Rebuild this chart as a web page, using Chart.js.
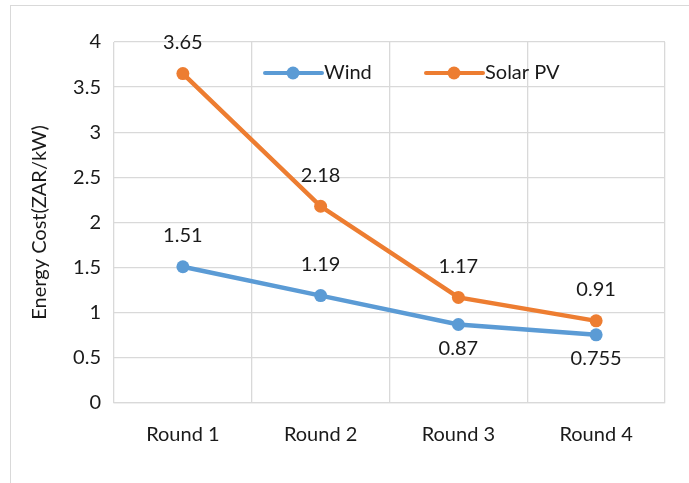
<!DOCTYPE html>
<html>
<head>
<meta charset="utf-8">
<script src="https://cdn.jsdelivr.net/npm/chart.js@4"></script>
<style>
html,body{margin:0;padding:0;background:#fff;}
#wrap{position:absolute;left:0;top:0;width:689px;height:483px;overflow:hidden;}
#frame{position:absolute;left:10px;top:5px;width:700px;height:500px;border:1.5px solid #d9d9d9;box-sizing:border-box;}
canvas{position:absolute;left:0;top:0;}
</style>
</head>
<body>
<div id="wrap"><div id="frame"></div><canvas id="c" width="689" height="483"></canvas></div>
<script>
const categories = ["Round 1", "Round 2", "Round 3", "Round 4"];
const windValues = [1.51, 1.19, 0.87, 0.755];
const solarValues = [3.65, 2.18, 1.17, 0.91];
const windLabels = ["1.51", "1.19", "0.87", "0.755"];
const solarLabels = ["3.65", "2.18", "1.17", "0.91"];
const windLabelPos = ["above", "above", "below", "below"];
const solarLabelPos = ["above", "above", "above", "above"];
const yTicks = [0, 0.5, 1, 1.5, 2, 2.5, 3, 3.5, 4];

const FONT = "Lato, 'Liberation Sans', sans-serif";
const TEXT = "#1a1a1a";
const FS = 20;

const dataLabelPlugin = {
  id: 'dataLabels',
  afterDatasetsDraw(chart) {
    const ctx = chart.ctx;
    ctx.save();
    ctx.font = FS + "px " + FONT;
    ctx.fillStyle = TEXT;
    ctx.textAlign = 'center';
    ctx.textBaseline = 'middle';
    chart.data.datasets.forEach((ds, di) => {
      const meta = chart.getDatasetMeta(di);
      meta.data.forEach((pt, i) => {
        const pos = ds.labelPos[i];
        const y = pos === 'above' ? pt.y - 31 : pt.y + 24;
        ctx.fillText(ds.labelText[i], pt.x, y);
      });
    });
    ctx.restore();
  }
};

const legendPlugin = {
  id: 'innerLegend',
  afterDraw(chart) {
    const ctx = chart.ctx;
    const items = [
      {x: 265, color: '#5B9BD5', text: 'Wind'},
      {x: 426, color: '#ED7D31', text: 'Solar PV'}
    ];
    const y = 73;
    ctx.save();
    items.forEach(it => {
      ctx.strokeStyle = it.color;
      ctx.lineWidth = 4;
      ctx.lineCap = 'round';
      ctx.beginPath();
      ctx.moveTo(it.x, y);
      ctx.lineTo(it.x + 57, y);
      ctx.stroke();
      ctx.fillStyle = it.color;
      ctx.beginPath();
      ctx.arc(it.x + 28, y, 6.5, 0, Math.PI * 2);
      ctx.fill();
      ctx.fillStyle = TEXT;
      ctx.font = FS + "px " + FONT;
      ctx.textAlign = 'left';
      ctx.textBaseline = 'middle';
      ctx.fillText(it.text, it.x + 59, y);
    });
    ctx.restore();
  }
};

new Chart(document.getElementById('c'), {
  type: 'line',
  data: {
    labels: categories,
    datasets: [
      {label: 'Wind', data: windValues, borderColor: '#5B9BD5', backgroundColor: '#5B9BD5',
       borderWidth: 4.5, pointRadius: 6.5, pointBackgroundColor: '#5B9BD5', pointBorderWidth: 0,
       labelText: windLabels, labelPos: windLabelPos, tension: 0},
      {label: 'Solar PV', data: solarValues, borderColor: '#ED7D31', backgroundColor: '#ED7D31',
       borderWidth: 4.5, pointRadius: 6.5, pointBackgroundColor: '#ED7D31', pointBorderWidth: 0,
       labelText: solarLabels, labelPos: solarLabelPos, tension: 0}
    ]
  },
  options: {
    responsive: false,
    animation: false,
    events: [],
    layout: {padding: {left: 0, top: 42, right: 24, bottom: 0}},
    plugins: {legend: {display: false}, tooltip: {enabled: false}},
    scales: {
      x: {
        offset: true,
        grid: {color: '#d9d9d9', lineWidth: 1.3, drawTicks: false, offset: true},
        border: {color: '#d9d9d9', width: 1.3},
        ticks: {color: TEXT, font: {family: FONT, size: FS}, padding: 20},
        afterFit(s) { s.height = 80; }
      },
      y: {
        min: 0, max: 4,
        afterBuildTicks(s) { s.ticks = yTicks.map(v => ({value: v})); },
        grid: {color: '#d9d9d9', lineWidth: 1.3, drawTicks: false},
        border: {display: false},
        ticks: {color: TEXT, font: {family: FONT, size: FS}, padding: 13,
                callback: v => String(v)},
        title: {display: true, text: 'Energy Cost(ZAR/kW)', color: TEXT,
                font: {family: FONT, size: FS}, padding: {top: 28, bottom: 0}},
        afterFit(s) { s.width = 114; }
      }
    }
  },
  plugins: [dataLabelPlugin, legendPlugin]
});
</script>
</body>
</html>
